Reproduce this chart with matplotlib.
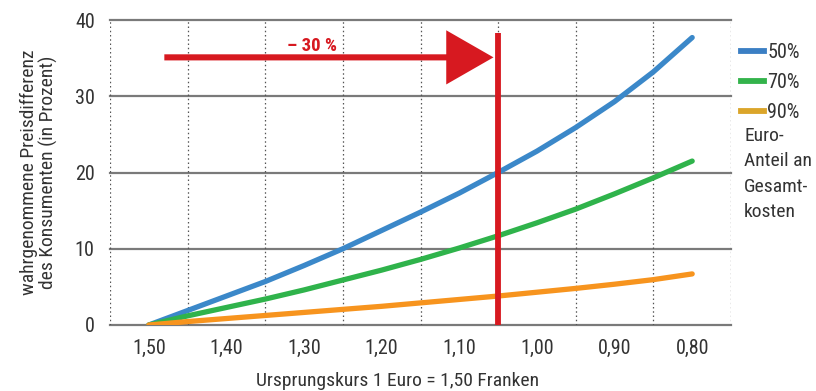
import matplotlib
matplotlib.use("Agg")
import matplotlib.pyplot as plt
from matplotlib import font_manager
from matplotlib.lines import Line2D
from matplotlib.ticker import FixedLocator

# Pick a narrow sans if one is installed
available = {f.name for f in font_manager.fontManager.ttflist}
for fam in ["Liberation Sans Narrow", "Roboto Condensed", "DejaVu Sans"]:
    if fam in available:
        FONT = fam
        break
plt.rcParams["font.family"] = [FONT, "DejaVu Sans"]

# Exchange rate (Franken per Euro) and perceived price difference in %
kurs = [1.50, 1.45, 1.40, 1.35, 1.30, 1.25, 1.20, 1.15, 1.10, 1.05, 1.00, 0.95, 0.90, 0.85, 0.80]
anteil_50 = [0.0, 1.9, 3.8, 5.7, 7.8, 10.0, 12.4, 14.8, 17.3, 20.0, 22.8, 25.9, 29.3, 33.2, 37.7]
anteil_70 = [0.0, 1.2, 2.3, 3.4, 4.6, 5.9, 7.2, 8.6, 10.1, 11.7, 13.4, 15.2, 17.2, 19.3, 21.5]
anteil_90 = [0.0, 0.45, 0.85, 1.25, 1.65, 2.05, 2.45, 2.9, 3.35, 3.8, 4.3, 4.8, 5.35, 5.95, 6.7]

serien = [("50%", anteil_50, "#3b88c9", "#3b7fc4"),
          ("70%", anteil_70, "#2fb34b", "#33b34b"),
          ("90%", anteil_90, "#f7941e", "#dba52a")]

x_ticks = [1.50, 1.40, 1.30, 1.20, 1.10, 1.00, 0.90, 0.80]
x_ticklabels = ["1,50", "1,40", "1,30", "1,20", "1,10", "1,00", "0,90", "0,80"]
x_grid = [1.55, 1.45, 1.35, 1.25, 1.15, 1.05, 0.95, 0.85, 0.75]
y_ticks = [0, 10, 20, 30, 40]

neuer_kurs = 1.05
pfeil_start = 1.48
pfeil_y = 35.1
pfeil_text = "– 30 %"

TEXT = "#333333"
RED = "#d71920"
GRID = "#7a7a7a"

fig = plt.figure(figsize=(8.16, 3.91), dpi=100)
ax = fig.add_axes([110 / 816, 1 - 325 / 391, 621 / 816, 305 / 391])

ax.set_xlim(1.55, 0.75)
ax.set_ylim(0, 40)

# grid: solid horizontals, dotted verticals between the labelled rates
for y in y_ticks:
    ax.axhline(y, color=GRID, lw=1.6, zorder=1, clip_on=False)
for x in x_grid:
    ax.axvline(x, color="#555555", lw=0.9, ls=(0, (1.2, 2.2)), zorder=1)

for s in ax.spines.values():
    s.set_visible(False)

ax.xaxis.set_major_locator(FixedLocator(x_ticks))
ax.set_xticklabels(x_ticklabels)
ax.set_yticks(y_ticks)
ax.tick_params(axis="both", length=0, labelsize=14.5, colors=TEXT)
ax.tick_params(axis="x", pad=10)
ax.tick_params(axis="y", pad=11)

for name, vals, col, _ in serien:
    ax.plot(kurs, vals, color=col, lw=3.8, solid_capstyle="round",
            solid_joinstyle="round", zorder=3)

# new exchange-rate marker
ax.plot([neuer_kurs, neuer_kurs], [0, 38.3], color=RED, lw=4.2, zorder=4,
        solid_capstyle="butt")
ax.annotate("", xy=(neuer_kurs + 0.006, pfeil_y), xytext=(pfeil_start, pfeil_y),
            arrowprops=dict(arrowstyle="simple,head_length=1.7,head_width=1.95,tail_width=0.22",
                            mutation_scale=20, color=RED, lw=0, shrinkA=0, shrinkB=0),
            zorder=5)
ax.text(1.29, 36.6, pfeil_text, color=RED, fontsize=13.5, fontweight="bold",
        ha="center", va="center", zorder=5)

ax.set_ylabel("wahrgenommene Preisdifferenz\ndes Konsumenten (in Prozent)",
              fontsize=14, color=TEXT, labelpad=12, linespacing=1.1)
fig.text(398 / 816, 1 - 381 / 391, "Ursprungskurs 1 Euro = 1,50 Franken",
         fontsize=14, color=TEXT, ha="center", va="center")

handles = [Line2D([], [], color=lc, lw=4.2) for _, _, _, lc in serien]
leg = fig.legend(handles, [n for n, _, _, _ in serien], loc="upper left",
                 bbox_to_anchor=(741 / 816, 1 - 43 / 391), frameon=False,
                 fontsize=14.5, handlelength=1.15, handletextpad=0.15,
                 labelspacing=0.55, borderaxespad=0, borderpad=0)
for t in leg.get_texts():
    t.set_color(TEXT)
fig.text(744 / 816, 1 - 127 / 391, "Euro-\nAnteil an\nGesamt-\nkosten",
         fontsize=14, color=TEXT, ha="left", va="top", linespacing=1.52)

fig.savefig("out.png", dpi=100)
